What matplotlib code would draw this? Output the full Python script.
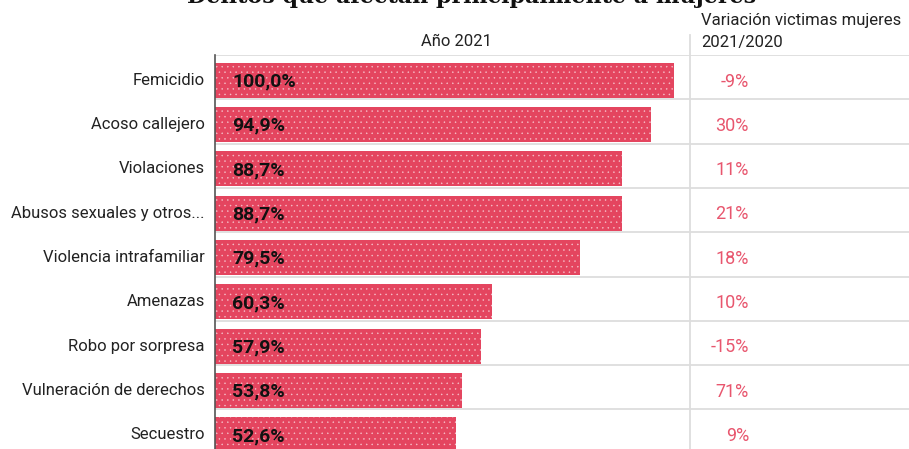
"""Horizontal bar chart: delitos que afectan principalmente a mujeres (2021)."""
import matplotlib; matplotlib.use("Agg")
import matplotlib.pyplot as plt

delitos = ["Femicidio", "Acoso callejero", "Violaciones", "Abusos sexuales y otros...",
           "Violencia intrafamiliar", "Amenazas", "Robo por sorpresa",
           "Vulneración de derechos", "Secuestro"]
pct_2021 = [100.0, 94.9, 88.7, 88.7, 79.5, 60.3, 57.9, 53.8, 52.6]
variacion = ["-9%", "30%", "11%", "21%", "18%", "10%", "-15%", "71%", "9%"]

BAR = "#e4455f"
PINK = "#e8566e"
GRID = "#dddddd"
plt.rcParams["font.family"] = ["Roboto", "DejaVu Sans"]
plt.rcParams["hatch.linewidth"] = 0.3

W, H = 909, 449
SCALE = 459  # px per 100 %
fig = plt.figure(figsize=(W / 100, H / 100), dpi=100)
left, top = 215, 55
ax = fig.add_axes([left / W, 0, 1 - left / W, (H - top) / H])
ax.set_xlim(0, (W - left) / SCALE * 100)
for s in ["top", "right", "bottom"]:
    ax.spines[s].set_visible(False)
ax.spines["left"].set_color("#555555")
ax.spines["left"].set_linewidth(1.2)
ax.set_xticks([]); ax.set_yticks([])

ys = [i + 0.57 for i in range(len(delitos))]
ax.barh(ys, pct_2021, height=0.79, color=BAR, edgecolor="#f6c3cc", linewidth=0,
        hatch="...", zorder=2)
for i in range(len(delitos) + 1):
    ax.axhline(i, color=GRID, lw=1.3, zorder=1)

def px(x):  # pixel column -> data x
    return (x - left) / SCALE * 100

for y, name, v, var in zip(ys, delitos, pct_2021, variacion):
    ax.text(-2.2, y, name, ha="right", va="center", fontsize=12, color="#222222")
    ax.text(px(232), y + 0.03, f"{v:.1f}%".replace(".", ","), ha="left", va="center",
            fontsize=14, fontweight="bold", color="#111111", zorder=3)
    ax.text(px(749), y + 0.03, var, ha="right", va="center", fontsize=13, color=PINK)

ax.plot([px(690), px(690)], [-0.45, 20], color=GRID, lw=1.3, clip_on=False)
ax.set_ylim((H - top) / 44.3, 0)

fig.text(456 / W, 1 - 42 / H, "Año 2021", ha="center", va="center", fontsize=12, color="#222222")
fig.text(701 / W, 1 - 21 / H, "Variación victimas mujeres", ha="left", va="center",
         fontsize=12, color="#222222")
fig.text(701 / W, 1 - 43 / H, "2021/2020", ha="left", va="center", fontsize=12, color="#222222")
fig.text(472 / W, 1 - 3 / H, "Delitos que afectan principalmente a mujeres", ha="center",
         va="baseline", fontsize=16, fontweight="bold", family="DejaVu Serif", color="#111111")

fig.savefig("out.png", dpi=100)
